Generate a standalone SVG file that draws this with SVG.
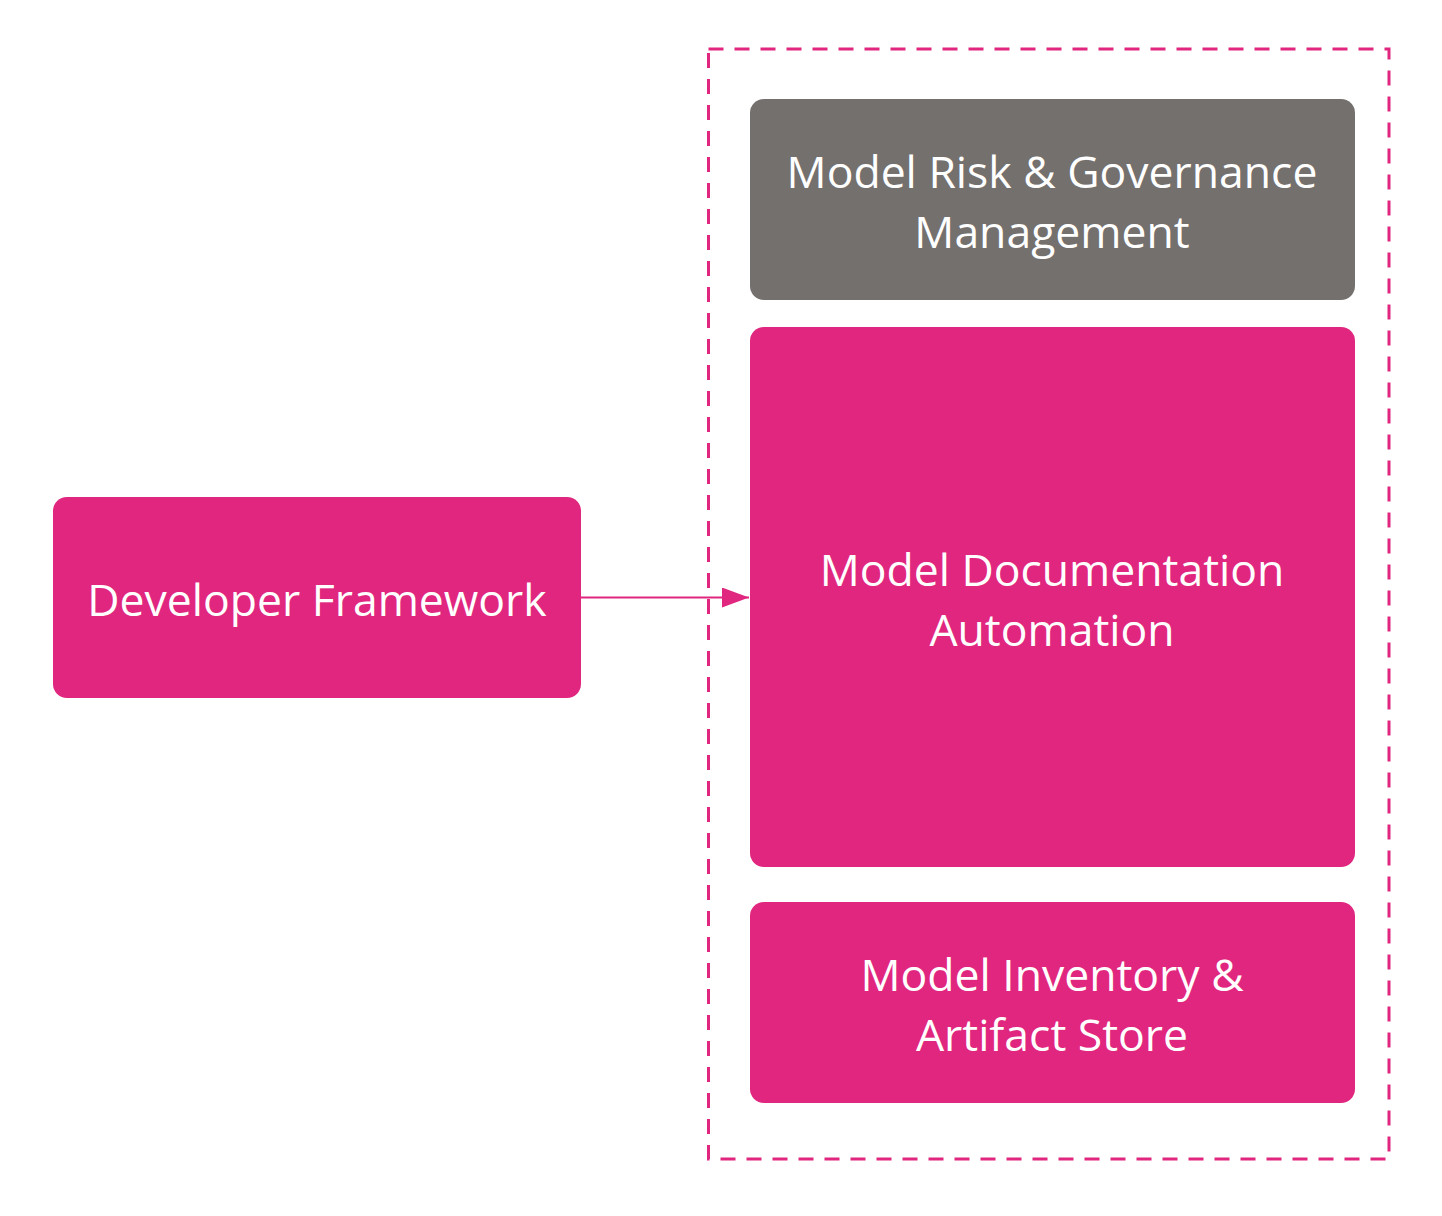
<svg xmlns="http://www.w3.org/2000/svg" width="1442" height="1216" viewBox="0 0 1442 1216">
<style>
.pink{fill:#E0267E}
.gray{fill:#74706E}
.t{font-family:"Open Sans","Noto Sans","Liberation Sans",sans-serif;font-size:44.5px;fill:#FFFFFF;text-anchor:middle}
</style>
<defs>
<marker id="ah" markerWidth="27" markerHeight="20" refX="27" refY="10" orient="auto" markerUnits="userSpaceOnUse">
<path d="M0,0 L27,10 L0,20 Z" fill="#E0267E"/>
</marker>
</defs>
<rect width="1442" height="1216" fill="#FFFFFF"/>
<g id="container">
<rect x="708.5" y="49" width="680.5" height="1110" fill="none" stroke="#E0267E" stroke-width="3" stroke-dasharray="15,11"/>
</g>
<g id="governance">
<rect x="750" y="99" width="605" height="201" rx="14" class="gray"/>
<text class="t" x="1052" y="188">Model Risk &amp; Governance</text>
<text class="t" x="1052" y="248">Management</text>
</g>
<g id="documentation">
<rect x="750" y="327" width="605" height="540" rx="14" class="pink"/>
<text class="t" x="1052" y="586">Model Documentation</text>
<text class="t" x="1052" y="646">Automation</text>
</g>
<g id="inventory">
<rect x="750" y="902" width="605" height="201" rx="14" class="pink"/>
<text class="t" x="1052" y="991">Model Inventory &amp;</text>
<text class="t" x="1052" y="1051">Artifact Store</text>
</g>
<g id="developer">
<rect x="53" y="497" width="528" height="201" rx="14" class="pink"/>
<text class="t" x="317" y="616">Developer Framework</text>
</g>
<g id="connectors">
<line x1="581" y1="597.5" x2="749" y2="597.5" stroke="#E0267E" stroke-width="2.2" marker-end="url(#ah)"/>
</g>
</svg>
